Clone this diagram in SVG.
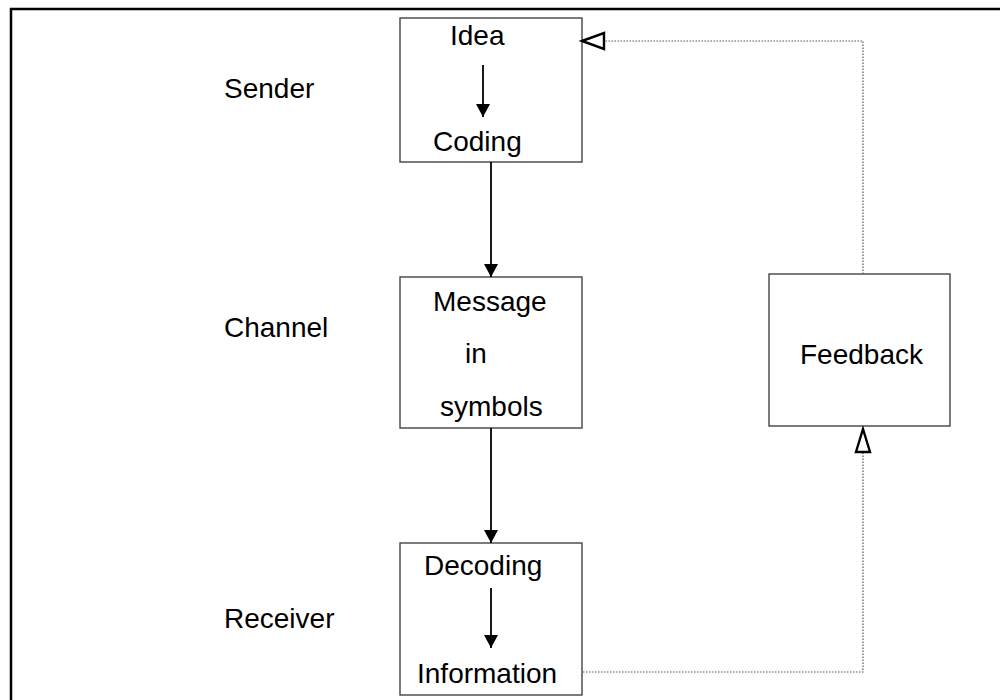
<svg xmlns="http://www.w3.org/2000/svg" width="1000" height="700" viewBox="0 0 1000 700">
<style>
text{font-family:"Liberation Sans",Arial,sans-serif;font-size:28px;fill:#000}
.box{fill:#fff;stroke:#444;stroke-width:1.4}
.solid{stroke:#000;stroke-width:1.8;fill:none}
.dot{stroke:#555;stroke-width:1.2;stroke-dasharray:1.5 1.5;fill:none}
.open{fill:#fff;stroke:#000;stroke-width:2.4;stroke-linejoin:miter}
</style>
<defs>
<marker id="ah" markerWidth="13" markerHeight="14" refX="13" refY="7" orient="auto" markerUnits="userSpaceOnUse">
<path d="M0,0 L13,7 L0,14 Z" fill="#000"/>
</marker>
</defs>
<rect width="1000" height="700" fill="#fff"/>
<g id="frame">
<path d="M11,700 V9 H1000" fill="none" stroke="#000" stroke-width="2.5"/>
</g>
<g id="labels">
<text x="224" y="98">Sender</text>
<text x="224" y="337">Channel</text>
<text x="224" y="628">Receiver</text>
</g>
<g id="node-sender">
<rect class="box" x="400" y="18" width="182" height="144"/>
<text x="450" y="45">Idea</text>
<text x="433" y="151">Coding</text>
</g>
<g id="node-message">
<rect class="box" x="400" y="277" width="182" height="151"/>
<text x="433" y="311">Message</text>
<text x="465" y="363">in</text>
<text x="440" y="416">symbols</text>
</g>
<g id="node-receiver">
<rect class="box" x="400" y="543" width="182" height="152"/>
<text x="424" y="575">Decoding</text>
<text x="417" y="683">Information</text>
</g>
<g id="node-feedback">
<rect class="box" x="769" y="274" width="181" height="152"/>
<text x="800" y="364">Feedback</text>
</g>
<g id="connectors">
<line class="solid" x1="483" y1="65" x2="483" y2="117" marker-end="url(#ah)"/>
<line class="solid" x1="491" y1="162" x2="491" y2="277" marker-end="url(#ah)"/>
<line class="solid" x1="491" y1="428" x2="491" y2="543" marker-end="url(#ah)"/>
<line class="solid" x1="491" y1="588" x2="491" y2="648" marker-end="url(#ah)"/>
<path class="dot" d="M583,672 H863 V452"/>
<polygon class="open" points="863,429 856,452 870,452"/>
<path class="dot" d="M863,274 V41 H604"/>
<polygon class="open" points="582,41 604,33 604,49"/>
</g>
</svg>
